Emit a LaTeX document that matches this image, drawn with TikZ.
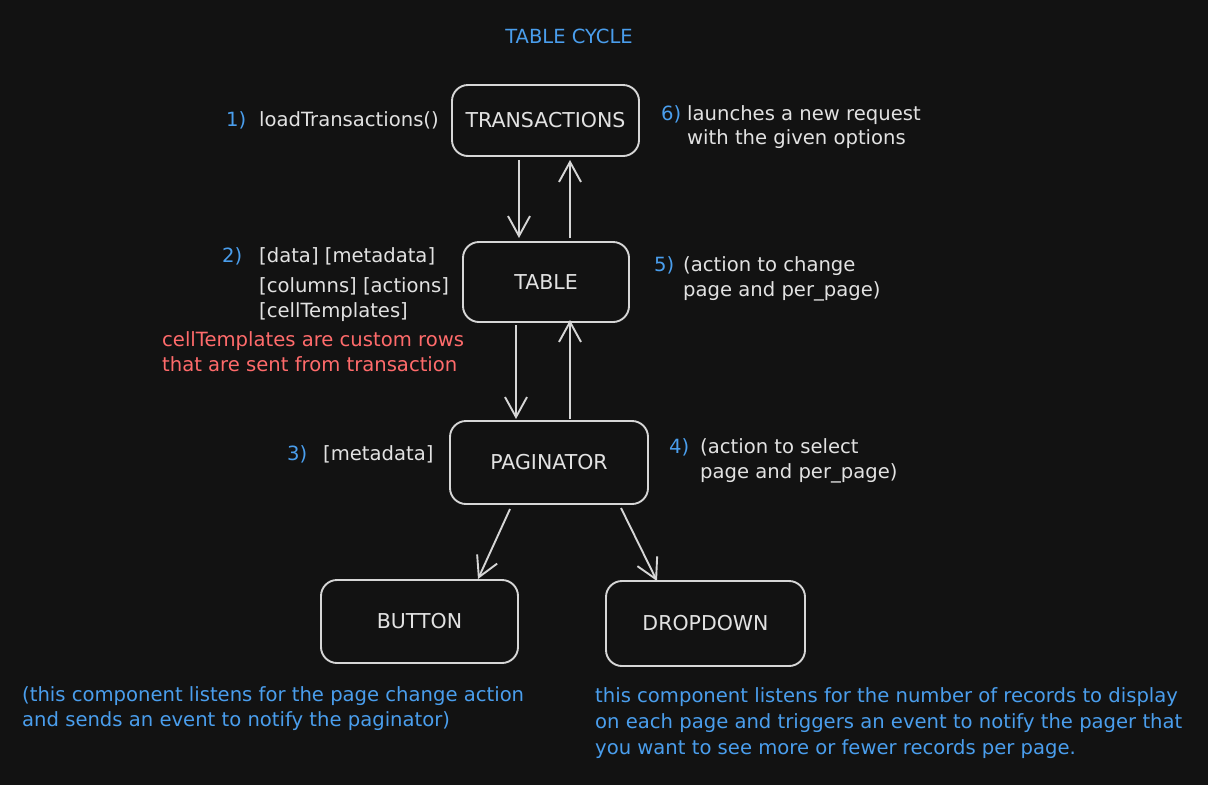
\documentclass[tikz,border=0pt]{standalone}
\usepackage{fontspec}
\setmainfont{DejaVu Sans}
\usetikzlibrary{arrows.meta}
\definecolor{bg}{HTML}{121212}
\definecolor{stroke}{HTML}{D6D6D6}
\definecolor{txt}{HTML}{E2E2E2}
\definecolor{blu}{HTML}{4A9EED}
\definecolor{rd}{HTML}{FF6B6B}
\tikzset{
  box/.style={draw=stroke, line width=1.9pt, rounded corners=16pt, fill=bg, inner sep=0pt, text=txt, font=\fontsize{20.5}{21}\selectfont},
  lbl/.style={anchor=base west, inner sep=0pt, text=txt, font=\fontsize{19.6}{25}\selectfont},
  num/.style={anchor=base west, inner sep=0pt, text=blu, font=\fontsize{19.6}{25}\selectfont},
  redt/.style={anchor=base west, inner sep=0pt, text=rd, font=\fontsize{19.6}{25}\selectfont},
  note/.style={anchor=base west, inner sep=0pt, text=blu, font=\fontsize{19.6}{25}\selectfont},
  conn/.style={draw=stroke, line width=1.9pt, -{Straight Barb[length=20pt,width=22pt,line width=1.9pt]}},
}
\begin{document}
\begin{tikzpicture}[x=1pt,y=-1pt]
\fill[bg] (0,0) rectangle (1208,785);
\useasboundingbox (0,0) rectangle (1208,785);

\node[anchor=center, text=blu, font=\fontsize{19.5}{20}\selectfont] (title) at (569,36) {TABLE CYCLE};

\node[box, minimum width=187pt, minimum height=71pt] (trans) at (545.5,120.5) {TRANSACTIONS};
\node[box, minimum width=166pt, minimum height=80pt] (table) at (546,282) {TABLE};
\node[box, minimum width=198pt, minimum height=83pt] (pag) at (549,462.5) {PAGINATOR};
\node[box, minimum width=197pt, minimum height=83pt] (btn) at (419.5,621.5) {BUTTON};
\node[box, minimum width=199pt, minimum height=85pt] (dd) at (705.5,623.5) {DROPDOWN};

% connectors
\coordinate (a1s) at (519,160); \coordinate (a1e) at (519,238);
\coordinate (a2s) at (570,238); \coordinate (a2e) at (570,160);
\coordinate (a3s) at (516,325); \coordinate (a3e) at (516,419);
\coordinate (a4s) at (570,419); \coordinate (a4e) at (570,320);
\coordinate (a5s) at (510,509); \coordinate (a5e) at (478,579);
\coordinate (a6s) at (621,508); \coordinate (a6e) at (657,581);
\draw[conn] (a1s) -- (a1e);
\draw[conn] (a2s) -- (a2e);
\draw[conn] (a3s) -- (a3e);
\draw[conn] (a4s) -- (a4e);
\draw[conn] (a5s) -- (a5e);
\draw[conn] (a6s) -- (a6e);

% 1)
\node[num] (n1) at (226,126) {1)};
\node[lbl] (t1) at (259,126) {loadTransactions()};
% 6)
\node[num] (n6) at (661,120) {6)};
\node[lbl] (t6a) at (687,120) {launches a new request};
\node[lbl] (t6b) at (687,144) {with the given options};
% 2)
\node[num] (n2) at (222,262) {2)};
\node[lbl] (t2a) at (259,262) {[data] [metadata]};
\node[lbl] (t2b) at (259,292) {[columns] [actions]};
\node[lbl] (t2c) at (259,317) {[cellTemplates]};
\node[redt] (r1) at (162,346) {cellTemplates are custom rows};
\node[redt] (r2) at (162,371) {that are sent from transaction};
% 5)
\node[num] (n5) at (654,271) {5)};
\node[lbl] (t5a) at (683,271) {(action to change};
\node[lbl] (t5b) at (683,296) {page and per\_page)};
% 3)
\node[num] (n3) at (287,460) {3)};
\node[lbl] (t3) at (323,460) {[metadata]};
% 4)
\node[num] (n4) at (669,453) {4)};
\node[lbl] (t4a) at (700,453) {(action to select};
\node[lbl] (t4b) at (700,478) {page and per\_page)};
% bottom notes
\node[note] (b1) at (22,701) {(this component listens for the page change action};
\node[note] (b2) at (22,726) {and sends an event to notify the paginator)};
\node[note] (c1) at (595,702) {this component listens for the number of records to display};
\node[note] (c2) at (595,728) {on each page and triggers an event to notify the pager that};
\node[note] (c3) at (595,754) {you want to see more or fewer records per page.};
\end{tikzpicture}
\end{document}
